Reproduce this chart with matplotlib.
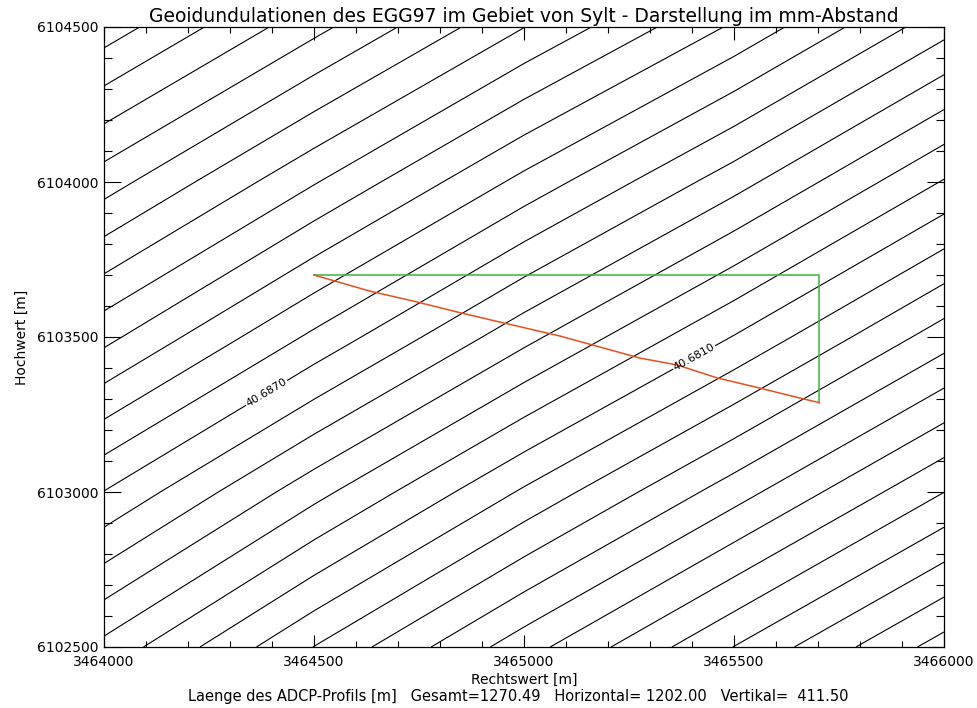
import matplotlib
matplotlib.use("Agg")
import matplotlib.pyplot as plt
import numpy as np
from matplotlib.ticker import MultipleLocator

# grid nodes (Gauss-Krueger Rechtswert / Hochwert, m)
grid_x = [3464000, 3464500, 3465000, 3465500, 3466000]
grid_y = [6102500, 6103000, 6103500, 6104000, 6104500]

# EGG97 geoid undulation at the grid nodes [m], rows = grid_y
geoid_n = [
    [40.68270, 40.67898, 40.67543, 40.67198, 40.66857],
    [40.68697, 40.68335, 40.67985, 40.67645, 40.67301],
    [40.69130, 40.68778, 40.68431, 40.68095, 40.67747],
    [40.69547, 40.69208, 40.68869, 40.68541, 40.68192],
    [40.69955, 40.69631, 40.69302, 40.68984, 40.68637],
]

# 1 mm contour interval
level_min = 40.669
level_max = 40.699

# contour labels: approximate positions
label_x = [3464383, 3465402]
label_y = [6103329, 6103442]

# ADCP profile track
track_x = [3464500, 3464633, 3464736, 3464840, 3464943, 3465086, 3465276,
           3465364, 3465460, 3465562, 3465657, 3465702]
track_y = [6103700, 6103648, 6103616, 6103581, 6103548, 6103503, 6103432,
           6103410, 6103368, 6103335, 6103303, 6103288.5]

# horizontal / vertical legs
leg_x = [3464500, 3465702, 3465702]
leg_y = [6103700, 6103700, 6103288.5]

gesamt = 1270.49
horizontal = 1202.00
vertikal = 411.50


def main():
    plt.rcParams["font.family"] = ["DejaVu Sans"]
    fig = plt.figure(figsize=(9.78, 7.08), dpi=100)
    ax = fig.add_axes([104 / 978, 1 - 647 / 708, 840 / 978, 620 / 708])

    levels = np.round(np.arange(level_min, level_max + 0.0005, 0.001), 4)
    cs = ax.contour(grid_x, grid_y, np.array(geoid_n), levels=levels,
                    colors="black", linewidths=0.8)
    ax.clabel(cs, fmt="%.4f", fontsize=8, inline=True, inline_spacing=1,
              manual=list(zip(label_x, label_y)))

    ax.plot(leg_x, leg_y, color="#3cb43c", linewidth=1.1)
    ax.plot(track_x, track_y, color="#e6501e", linewidth=1.1)

    ax.set_xlim(3464000, 3466000)
    ax.set_ylim(6102500, 6104500)
    ax.xaxis.set_major_locator(MultipleLocator(500))
    ax.xaxis.set_minor_locator(MultipleLocator(100))
    ax.yaxis.set_major_locator(MultipleLocator(500))
    ax.yaxis.set_minor_locator(MultipleLocator(100))
    ax.ticklabel_format(useOffset=False, style="plain")
    ax.tick_params(axis="both", which="both", direction="in",
                   top=True, right=True, labelsize=10, width=0.8)
    ax.tick_params(axis="x", which="major", length=9, pad=6)
    ax.tick_params(axis="x", which="minor", length=4.5)
    ax.tick_params(axis="y", which="major", length=12, pad=4)
    ax.tick_params(axis="y", which="minor", length=6)
    for sp in ax.spines.values():
        sp.set_linewidth(0.9)

    ax.set_ylabel("Hochwert [m]", fontsize=10, labelpad=6)
    cx = (104 + 944) / 2 / 978
    fig.text(cx, 1 - 17 / 708,
             "Geoidundulationen des EGG97 im Gebiet von Sylt - Darstellung im mm-Abstand",
             ha="center", va="center", fontsize=13.5)
    fig.text(cx, 1 - 680 / 708, "Rechtswert [m]", ha="center", va="center", fontsize=10)
    fig.text(cx - 0.006, 1 - 697 / 708,
             f"Laenge des ADCP-Profils [m]   Gesamt={gesamt:.2f}   "
             f"Horizontal= {horizontal:.2f}   Vertikal=  {vertikal:.2f}",
             ha="center", va="center", fontsize=10.5)

    fig.savefig("out.png", dpi=100)
    plt.close(fig)


if __name__ == "__main__":
    main()
